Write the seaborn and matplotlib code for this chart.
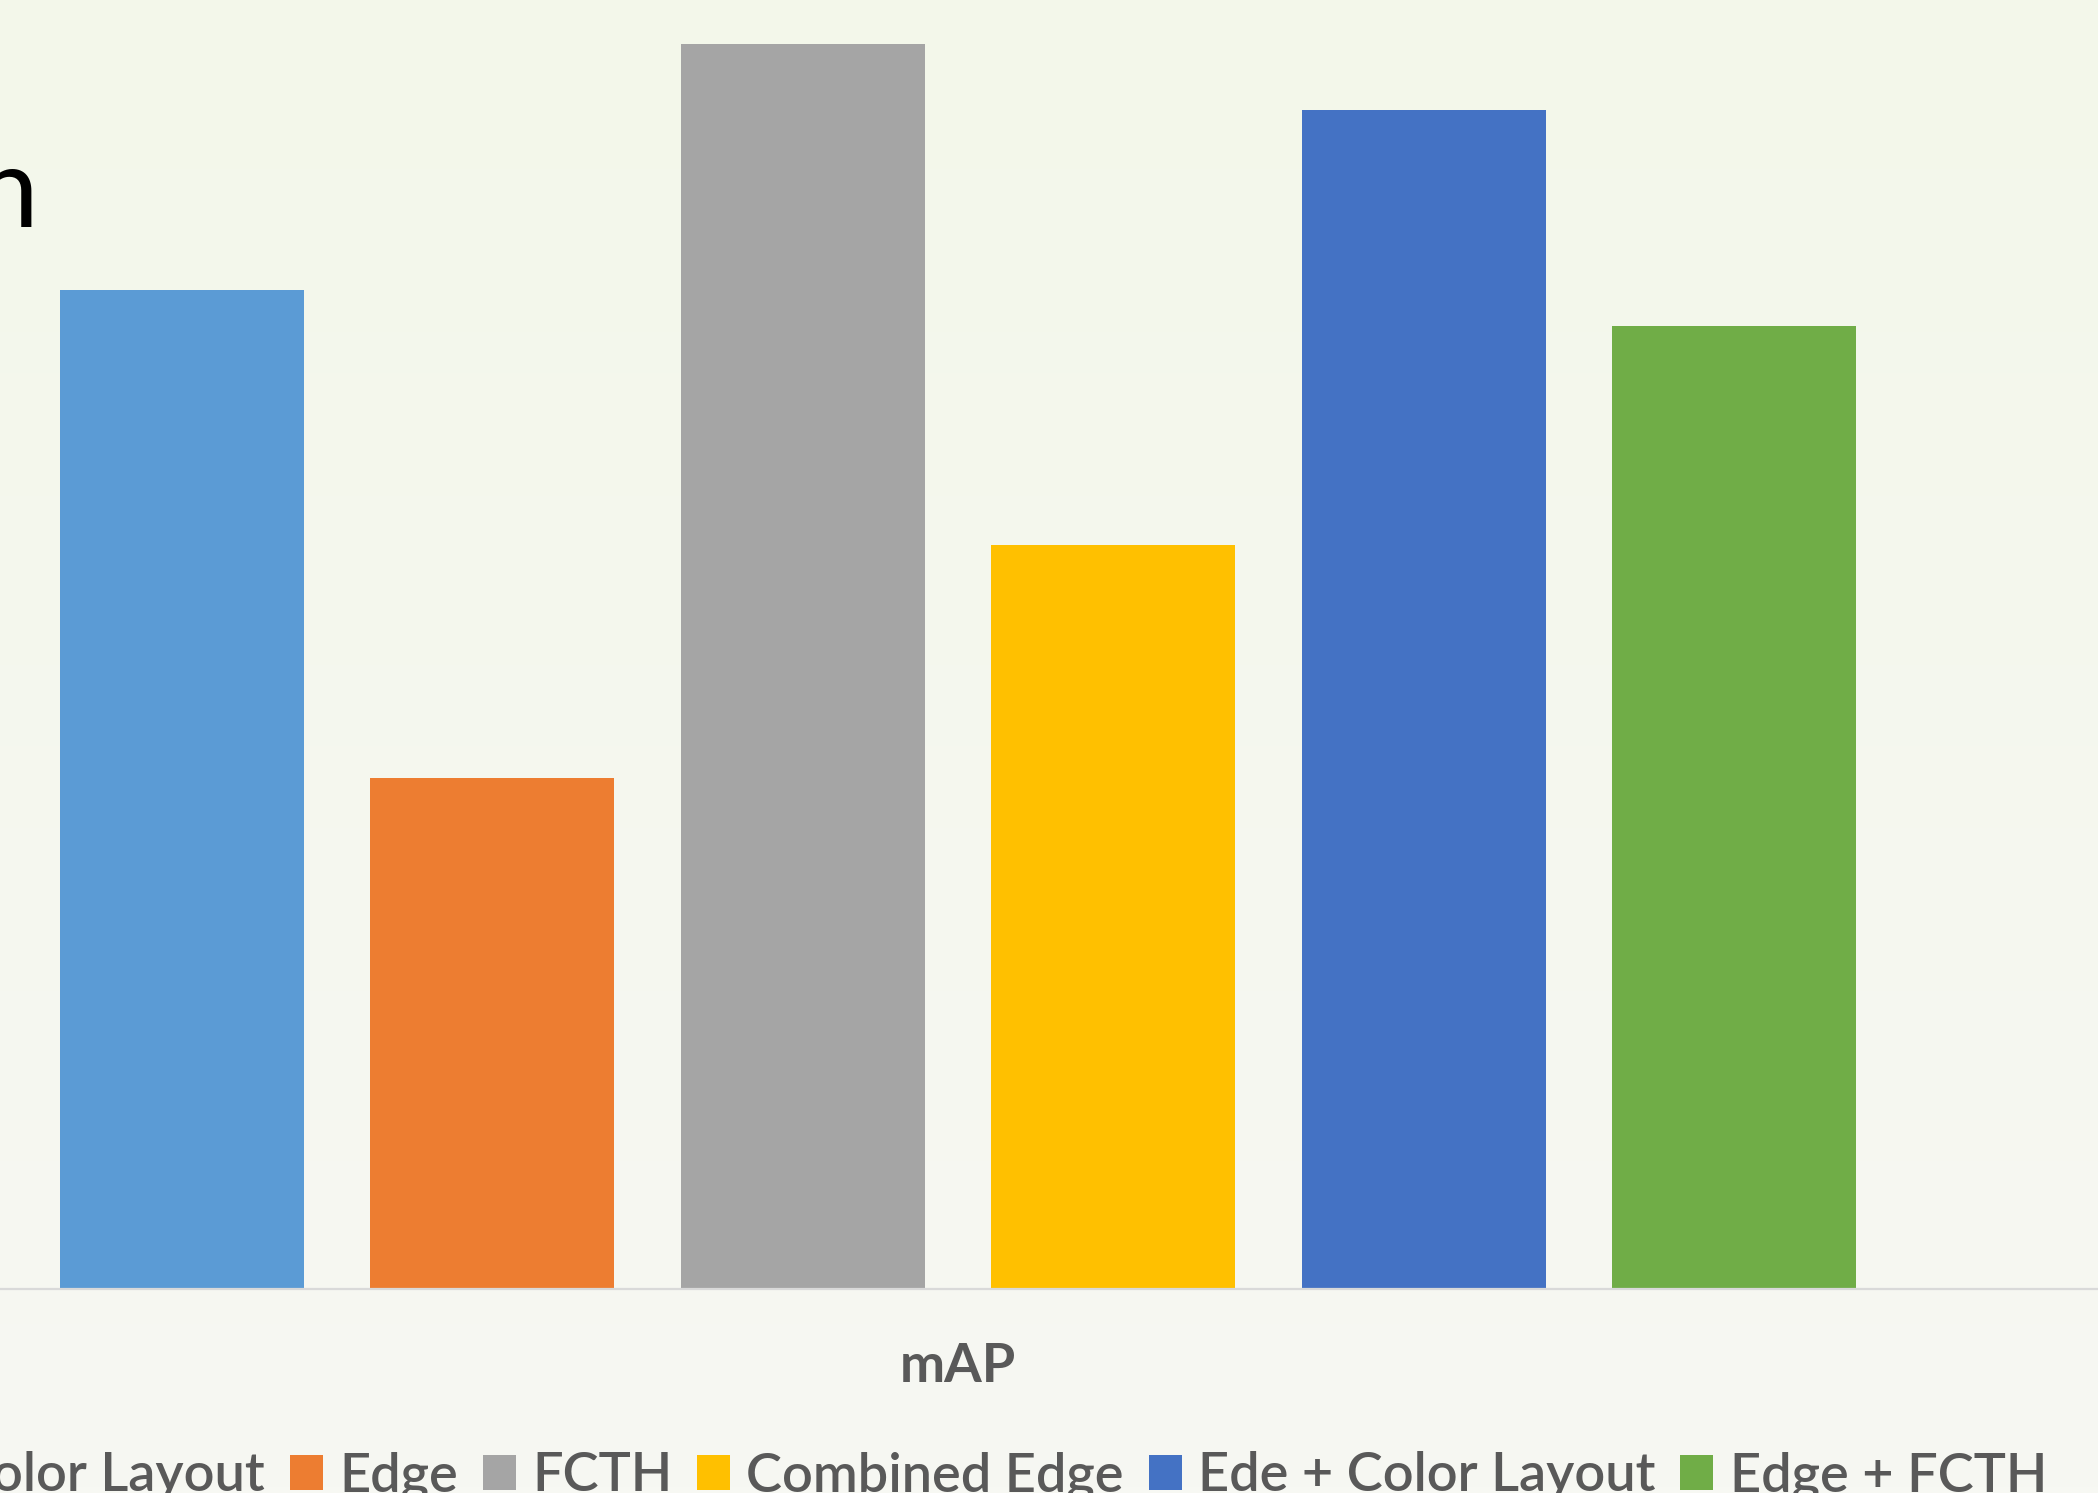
import numpy as np
import pandas as pd
import matplotlib
matplotlib.use("Agg")
import matplotlib.pyplot as plt
import matplotlib.patches as mpatches
import seaborn as sns

# ---- data ----
series = ["Color Layout", "Edge", "FCTH", "Combined Edge", "Ede + Color Layout", "Edge + FCTH"]
values = [0.602, 0.308, 0.750, 0.448, 0.710, 0.580]
colors = ["#5B9BD5", "#ED7D31", "#A5A5A5", "#FFC000", "#4472C4", "#70AD47"]
category = "mAP"
title_fragment = "n"

sns.set_theme(style="white")
plt.rcParams["font.family"] = ["Lato", "DejaVu Sans"]

W, H, DPI = 2098, 1493, 100
fig = plt.figure(figsize=(W / DPI, H / DPI), dpi=DPI)

# background gradient
bg = fig.add_axes([0, 0, 1, 1], zorder=-10)
top = np.array([243, 247, 234]) / 255
bot = np.array([247, 248, 243]) / 255
t = np.linspace(0, 1, 256)[:, None]
grad = (top[None, :] * (1 - t) + bot[None, :] * t)[:, None, :]
bg.imshow(grad, aspect="auto", extent=[0, 1, 0, 1])
bg.set_axis_off()

base_px = 1289
ax = fig.add_axes([0, 1 - base_px / H, 1, base_px / H])
ax.patch.set_alpha(0)
df = pd.DataFrame({"series": series, "value": values})
sns.barplot(data=df, x="series", y="value", hue="series", palette=colors,
            legend=False, width=0.786, linewidth=0, saturation=1, ax=ax)
ax.set_xlim(-0.586, 6.171)
ax.set_ylim(0, base_px / 1660)
ax.axhline(0, color="#D9D9D9", lw=1.6, zorder=5, clip_on=False)
for s in ax.spines.values():
    s.set_visible(False)
ax.set_xticks([])
ax.set_yticks([])
ax.set_xlabel("")
ax.set_ylabel("")

# category label
fig.text(958 / W, 1 - 1367 / H, category, ha="center", va="center",
         fontsize=39, fontweight="bold", color="#595959")

# cut-off title fragment
fig.text(38 / W, 1 - 227 / H, title_fragment, ha="right", va="baseline",
         fontsize=81, color="black")

# legend
handles = [mpatches.Patch(facecolor=c, edgecolor="none", label=s) for s, c in zip(series, colors)]
leg = fig.legend(handles=handles, loc="center", bbox_to_anchor=(977 / W, 1 - 1476 / H),
                 ncol=6, frameon=False, fontsize=39, labelcolor="#595959",
                 handlelength=0.61, handleheight=0.61, handletextpad=0.3,
                 columnspacing=0.46, borderpad=0, borderaxespad=0)
for txt in leg.get_texts():
    txt.set_fontweight("semibold")

fig.savefig("out.png", dpi=DPI)
